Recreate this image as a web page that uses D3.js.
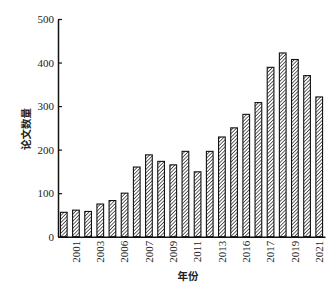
<!DOCTYPE html>
<html><head><meta charset="utf-8">
<script src="https://cdn.jsdelivr.net/npm/d3@7"></script>
<style>body{margin:0;background:#fff}</style>
</head><body>
<script>
const categories = ["2000","2001","2002","2003","2004","2005","2006","2007","2008","2009","2010","2011","2012","2013","2014","2015","2016","2017","2018","2019","2020","2021"];
const values = [56, 61, 58, 75, 83, 100, 160, 188, 173, 165, 196, 149, 196, 229, 250, 281, 308, 389, 422, 407, 370, 321];
const tickCategories = ["2001","2003","2005","2007","2009","2011","2013","2015","2017","2019","2021"];
const tickLabels = ["2001","2003","2006","2007","2009","2011","2013","2016","2017","2019","2021"];
const yTicks = [0, 100, 200, 300, 400, 500];

const W = 334, H = 285;
const svg = d3.select("body").append("svg").attr("width", W).attr("height", H);

const defs = svg.append("defs");
const pat = defs.append("pattern").attr("id","hatch").attr("patternUnits","userSpaceOnUse")
  .attr("width",2.5).attr("height",2.5).attr("patternTransform","rotate(45)");
pat.append("rect").attr("width",2.5).attr("height",2.5).attr("fill","#fff");
pat.append("line").attr("x1",0).attr("y1",0).attr("x2",0).attr("y2",2.5)
  .attr("stroke","#222").attr("stroke-width",1.4);

const x = d3.scaleBand().domain(categories).range([58, 325]).paddingInner(0.45).paddingOuter(0.2);
const y = d3.scaleLinear().domain([0, 500]).range([236.7, 19]);

svg.append("g").selectAll("rect").data(values).join("rect")
  .attr("x", (d,i) => x(categories[i]))
  .attr("y", d => y(d))
  .attr("width", x.bandwidth())
  .attr("height", d => y(0) - y(d))
  .attr("fill", "url(#hatch)")
  .attr("stroke", "#111")
  .attr("stroke-width", 1.1);

const font = "'Liberation Serif', 'DejaVu Serif', serif";

const yAxis = svg.append("g").attr("transform", "translate(58,0)")
  .call(d3.axisLeft(y).tickValues(yTicks).tickSize(-4).tickSizeOuter(0).tickPadding(4));
yAxis.select(".domain").attr("stroke","#111").attr("stroke-width",1.5);
yAxis.selectAll(".tick line").attr("stroke","#111").attr("stroke-width",1.2);
yAxis.selectAll("text").attr("font-family", font).attr("font-size", 11).attr("fill","#222");

const labelMap = new Map(tickCategories.map((c,i) => [c, tickLabels[i]]));
const xAxis = svg.append("g").attr("transform", "translate(0,236.7)")
  .call(d3.axisBottom(x).tickValues(tickCategories).tickSize(0).tickSizeOuter(0).tickFormat(c => labelMap.get(c)));
xAxis.select(".domain").attr("stroke","#111").attr("stroke-width",1.5);
xAxis.selectAll("text")
  .attr("font-family", font).attr("font-size", 11).attr("fill","#222")
  .attr("text-anchor","end")
  .attr("transform","rotate(-90)")
  .attr("x", -4).attr("y", 0).attr("dy","0.35em");

svg.append("text").attr("transform","translate(25,129) rotate(-90)")
  .attr("text-anchor","middle").attr("dominant-baseline","central")
  .attr("font-family","'Noto Sans CJK SC', sans-serif").attr("font-weight","bold")
  .attr("font-size", 10.5).attr("fill","#222").text("论文数量");

svg.append("text").attr("x", 188).attr("y", 275)
  .attr("text-anchor","middle").attr("dominant-baseline","central")
  .attr("font-family","'Noto Sans CJK SC', sans-serif").attr("font-weight","bold")
  .attr("font-size", 10.5).attr("fill","#222").text("年份");
</script>
</body></html>
